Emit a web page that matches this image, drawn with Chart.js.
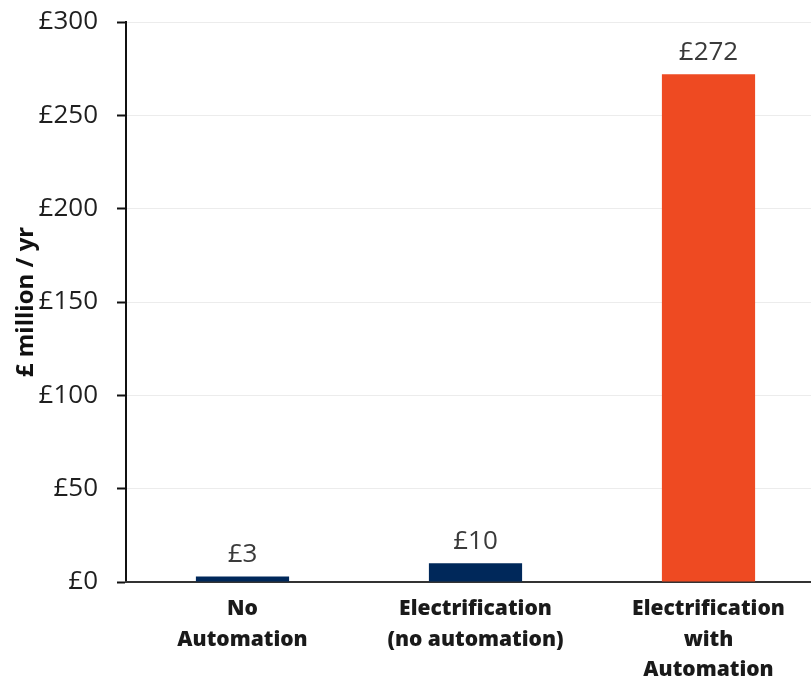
<!DOCTYPE html>
<html>
<head>
<meta charset="utf-8">
<script src="https://cdn.jsdelivr.net/npm/chart.js@4"></script>
<style>
  html, body { margin: 0; padding: 0; background: #fff; overflow: hidden; width: 811px; height: 679px; }
  #wrap { width: 825px; height: 679px; }
</style>
</head>
<body>
<div id="wrap"><canvas id="c" width="825" height="679"></canvas></div>
<script>
// Annual value by scenario, £ million per year
const categories = [
  ['No', 'Automation'],
  ['Electrification', '(no automation)'],
  ['Electrification', 'with', 'Automation']
];
const values = [3, 10, 272];
const barColors = ['#00285A', '#00285A', '#EE4A22'];
const yTicks = [0, 50, 100, 150, 200, 250, 300];

const textColor = '#1f1f1f';

// Writes the £ value above each bar
const valueLabels = {
  id: 'valueLabels',
  afterDatasetsDraw(chart) {
    const ctx = chart.ctx;
    const meta = chart.getDatasetMeta(0);
    ctx.save();
    ctx.font = '26px "Open Sans"';
    ctx.fillStyle = '#3a3a3a';
    ctx.textAlign = 'center';
    ctx.textBaseline = 'middle';
    meta.data.forEach((bar, i) => {
      ctx.fillText('£' + values[i], bar.x, bar.y - 22);
    });
    ctx.restore();
  }
};

new Chart(document.getElementById('c'), {
  type: 'bar',
  data: {
    labels: categories,
    datasets: [{
      data: values,
      backgroundColor: barColors,
      borderWidth: 0,
      barPercentage: 0.4,
      categoryPercentage: 1.0
    }]
  },
  options: {
    responsive: false,
    animation: false,
    layout: { padding: { top: 22, left: 12, right: 0, bottom: 0 } },
    plugins: {
      legend: { display: false },
      tooltip: { enabled: false }
    },
    scales: {
      y: {
        min: 0,
        max: 300,
        afterBuildTicks(scale) {
          scale.ticks = yTicks.map(v => ({ value: v }));
        },
        afterFit(scale) {
          scale.width = 114;
          scale.paddingTop = 0;
          scale.paddingBottom = 0;
        },
        ticks: {
          padding: 19,
          color: textColor,
          font: { family: '"Open Sans"', size: 26 },
          callback: v => '£' + v
        },
        grid: {
          color: '#ececec',
          lineWidth: 1,
          tickLength: 9,
          tickColor: '#111',
          tickWidth: 2
        },
        border: { color: '#111', width: 2 },
        title: {
          display: true,
          text: '£ million / yr',
          color: '#111',
          font: { family: '"Open Sans"', size: 24, weight: 'bold' },
          padding: 0
        }
      },
      x: {
        afterFit(scale) { scale.height = 97; },
        grid: { display: false, drawTicks: false },
        border: { color: '#333', width: 2 },
        ticks: {
          padding: 12,
          color: '#1a1a1a',
          font: { family: '"Open Sans"', size: 21, weight: 800, lineHeight: 1.45 },
          maxRotation: 0,
          autoSkip: false
        }
      }
    }
  },
  plugins: [valueLabels]
});
</script>
</body>
</html>
